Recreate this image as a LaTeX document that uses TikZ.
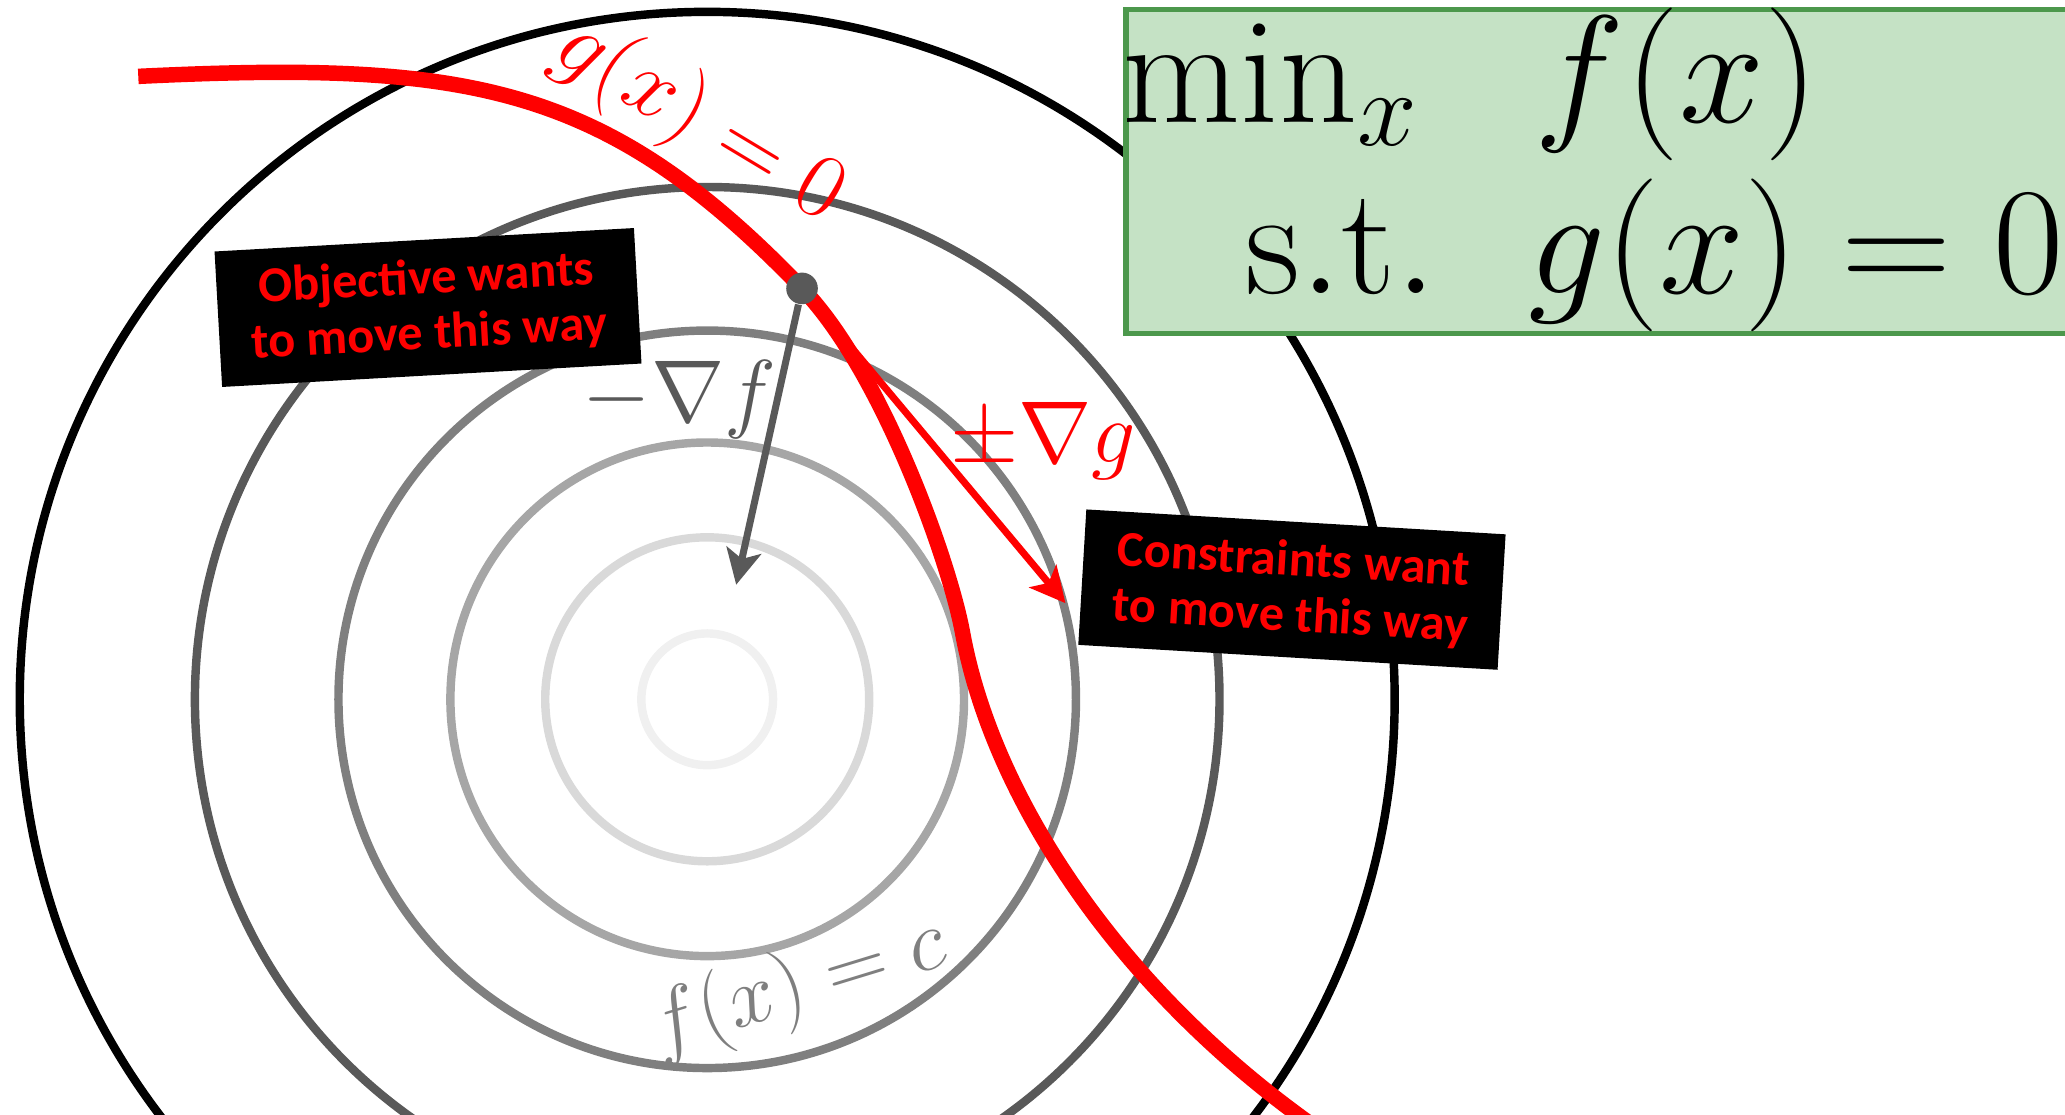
\RequirePackage{fix-cm}
\documentclass[tikz,border=0pt]{standalone}
\usepackage{amsmath}
\usepackage{fontspec}
\newfontfamily\notefont{Carlito}
\usepackage{tikz}
\usetikzlibrary{arrows.meta}
\definecolor{ring1}{RGB}{240,240,240}
\definecolor{ring2}{RGB}{217,217,217}
\definecolor{ring3}{RGB}{166,166,166}
\definecolor{ring4}{RGB}{127,127,127}
\definecolor{ring5}{RGB}{89,89,89}
\definecolor{probfill}{RGB}{197,226,197}
\definecolor{probline}{RGB}{76,152,76}

\begin{document}
\begin{tikzpicture}[x=0.01317cm, y=-0.01317cm,
  >={Stealth[length=10pt,width=10pt,inset=2.5pt]},
  ring/.style={line width=2.4pt},
  note/.style={fill=black, text=red, align=center, inner sep=0pt,
    minimum width=119.5pt, minimum height=38.6pt,
    font=\notefont\bfseries\fontsize{14.3}{15.8}\selectfont},
  grad/.style={font=\fontsize{25}{30}\selectfont},
  prob/.style={anchor=base west, inner sep=0pt, font=\fontsize{43.5}{52}\selectfont}]
\clip (0,0) rectangle (1568,846);
\coordinate (o) at (537,531);
% level sets of f
\foreach \r/\c in {50/ring1, 123/ring2, 195/ring3, 280/ring4, 389/ring5, 522/black}
  \draw[ring, draw=\c] (o) circle (\r);
% constraint g(x)=0
\draw[red, line width=4.4pt] (105,58) .. controls (355,46) and (459,63) .. (609,219)
  .. controls (669,281) and (721,426) .. (731,481)
  .. controls (753,601) and (845,748) .. (1000,857);
\coordinate (ftip) at (559,444);
\coordinate (gtip) at (809,458);
\node[circle, fill=ring5, inner sep=0pt, minimum size=9pt] (xstar) at (609,219) {};
\draw[->, red, line width=2pt] (xstar) -- (gtip);
\draw[->, ring5, line width=2pt] (xstar) -- (ftip);

\node[grad, ring5, anchor=base] (nf) at (516,320) {$-\nabla f$};
\node[grad, red, anchor=base] (ng) at (792,351) {$\pm\nabla g$};
\node[red, rotate=-31, font=\fontsize{26}{31}\selectfont] (glbl) at (531,92) {$g(x)=0$};
\node[ring4, rotate=17, font=\fontsize{24.5}{29}\selectfont] (flbl) at (606,750) {$f(x)=c$};

\node[note, rotate=3.2] (obj) at (325,233.5) {Objective wants\\to move this way};
\node[note, rotate=-3.4] (con) at (981,447.7) {Constraints want\\to move this way};

\node[draw=probline, fill=probfill, line width=1.5pt, outer sep=0pt,
  anchor=north west, minimum width=320pt, minimum height=92.2pt] (box) at (855,7) {};
\node[prob] (minx) at (852,93) {$\min_x$};
\node[prob] (fx) at (1165,93) {$f(x)$};
\node[prob] (st) at (945,223) {$\mathrm{s.t.}$};
\node[prob] (gx) at (1160,223) {$g(x)=0$};
\end{tikzpicture}
\end{document}
